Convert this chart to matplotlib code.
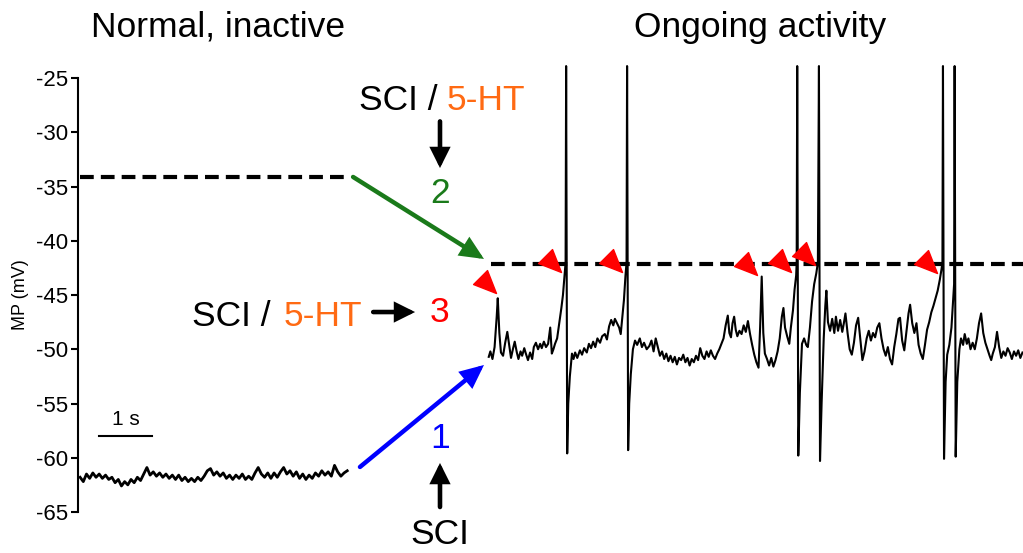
import matplotlib
matplotlib.use("Agg")
import matplotlib.pyplot as plt
import numpy as np
from matplotlib.path import Path

plt.rcParams['font.family'] = ['Liberation Sans', 'DejaVu Sans']
plt.rcParams['axes.unicode_minus'] = False

# membrane potential, normal / inactive cell (sampled every 0.06 s from 0.04 s)
rest_dt = 0.06
rest_start = 0.04
rest_mv = [-61.8, -62.2, -61.5, -61.9, -61.4, -61.8, -61.5, -61.9, -61.6, -62.0,
           -61.8, -62.3, -62.0, -62.6, -62.2, -62.5, -62.0, -62.3, -61.8, -62.1,
           -61.5, -60.9, -61.6, -61.3, -61.7, -61.4, -61.8, -61.5, -61.9, -61.6,
           -62.0, -61.6, -62.1, -61.8, -62.2, -61.9, -62.2, -61.8, -62.1, -61.7,
           -61.2, -61.0, -61.6, -61.3, -61.7, -61.4, -61.9, -61.6, -62.0, -61.6,
           -61.9, -61.5, -62.0, -61.7, -62.0, -61.4, -60.9, -61.5, -61.8, -61.4,
           -61.9, -61.4, -61.8, -61.3, -60.9, -61.5, -61.2, -61.7, -61.3, -61.9,
           -61.5, -62.0, -61.6, -61.9, -61.4, -61.7, -61.2, -61.6, -61.3, -61.7,
           -60.7, -61.3, -61.7, -61.4, -61.2]

# ongoing activity trace (time s, potential mV)
active_t = [7.75, 7.78, 7.82, 7.86, 7.90, 7.92, 7.95, 7.98, 8.02, 8.06, 8.10, 8.14, 8.17, 8.21, 8.24,
            8.28, 8.31, 8.35, 8.38, 8.42, 8.45, 8.49, 8.53, 8.57, 8.60, 8.64, 8.68, 8.72, 8.75, 8.79,
            8.83, 8.87, 8.91, 8.94, 8.97, 9.00, 9.04, 9.08, 9.12, 9.15, 9.18, 9.20,
            9.21, 9.23, 9.25, 9.28, 9.32, 9.35, 9.38, 9.42, 9.47, 9.51, 9.55, 9.60, 9.64, 9.68, 9.72,
            9.76, 9.80, 9.85, 9.89, 9.94, 9.98, 10.02, 10.06, 10.10, 10.13, 10.17, 10.21, 10.24, 10.27,
            10.30, 10.33, 10.35,
            10.36, 10.38, 10.40, 10.43, 10.47, 10.51, 10.55, 10.60, 10.64, 10.68, 10.73, 10.78, 10.82,
            10.86, 10.90, 10.94, 10.98, 11.02, 11.06, 11.10, 11.14, 11.18, 11.22, 11.26, 11.30, 11.34,
            11.38, 11.42, 11.46, 11.50, 11.54, 11.58, 11.62, 11.66, 11.70, 11.74, 11.78, 11.82, 11.86,
            11.90, 11.94, 11.98, 12.02, 12.06, 12.10, 12.14, 12.18, 12.22, 12.26, 12.29, 12.32, 12.35,
            12.38, 12.41, 12.44, 12.48, 12.52, 12.56, 12.60, 12.64, 12.68, 12.72, 12.76, 12.80, 12.84,
            12.87, 12.90, 12.93, 12.96, 13.00, 13.04, 13.08, 13.12, 13.16, 13.20, 13.24, 13.28, 13.31,
            13.34, 13.38, 13.42, 13.45, 13.49, 13.52, 13.55, 13.56,
            13.57, 13.59, 13.62, 13.66, 13.70, 13.74, 13.77, 13.81, 13.85, 13.89, 13.93, 13.96,
            13.98, 14.00, 14.03, 14.07, 14.10, 14.12, 14.15, 14.19, 14.23, 14.27, 14.30, 14.34, 14.38,
            14.42, 14.45, 14.48, 14.52, 14.56, 14.60, 14.64, 14.68, 14.72, 14.76, 14.80, 14.84, 14.88,
            14.92, 14.96, 15.00, 15.04, 15.08, 15.12, 15.16, 15.20, 15.24, 15.28, 15.32, 15.36, 15.40,
            15.44, 15.48, 15.51, 15.55, 15.59, 15.63, 15.67, 15.70, 15.74, 15.78, 15.82, 15.86, 15.90,
            15.94, 15.98, 16.02, 16.06, 16.10, 16.14, 16.18, 16.22, 16.26, 16.29, 16.31,
            16.32, 16.34, 16.37, 16.40, 16.44, 16.48, 16.51, 16.53,
            16.54, 16.56, 16.59, 16.63, 16.66, 16.70, 16.73, 16.77, 16.80, 16.84, 16.88, 16.92, 16.96,
            17.00, 17.04, 17.08, 17.12, 17.16, 17.20, 17.23, 17.26, 17.30, 17.34, 17.38, 17.42, 17.46,
            17.50, 17.54, 17.58, 17.62, 17.66, 17.70, 17.74, 17.78, 17.82]
active_mv = [-50.7, -50.2, -50.9, -49.8, -47.0, -45.3, -48.5, -50.3, -50.6, -49.4, -48.4, -49.8, -50.8, -49.9, -49.3,
             -50.3, -50.9, -50.2, -50.6, -49.9, -50.4, -51.0, -50.3, -50.9, -49.8, -49.4, -50.0, -49.5, -49.9, -49.3,
             -49.8, -49.5, -48.0, -50.4, -50.0, -49.5, -49.0, -47.6, -46.2, -45.0, -43.2, -42.0,
             -23.9, -59.6, -55.0, -52.5, -50.4, -50.9, -50.3, -50.8, -50.1, -50.5, -49.9, -50.3, -49.5, -49.9, -49.3,
             -49.8, -49.0, -49.4, -48.8, -48.6, -49.1, -47.9, -47.3, -47.8, -47.2, -47.6, -48.0, -48.6, -47.0,
             -45.5, -43.2, -42.0,
             -23.9, -59.3, -55.0, -52.3, -50.0, -49.2, -49.6, -49.0, -49.8, -49.4, -50.0, -49.7, -49.2,
             -50.2, -49.0, -49.8, -50.6, -50.2, -50.9, -50.4, -51.1, -50.6, -51.2, -50.7, -51.4, -50.8,
             -51.0, -50.5, -51.2, -50.8, -51.5, -50.9, -51.2, -50.6, -51.0, -49.9, -50.6, -50.9, -50.2,
             -50.7, -50.1, -50.6, -50.9, -50.4, -50.0, -49.5, -49.0, -47.8, -46.9, -48.5, -48.9, -47.6,
             -47.0, -48.2, -48.8, -48.3, -48.6, -47.8, -48.4, -47.4, -48.6, -49.6, -50.5, -51.2, -51.7,
             -48.0, -43.3, -48.5, -50.4, -50.9, -51.5, -50.8, -51.6, -51.0, -50.2, -49.0, -47.0, -46.2,
             -48.0, -48.8, -49.5, -48.0, -46.4, -44.5, -43.2, -42.0,
             -23.9, -59.8, -54.0, -49.5, -49.0, -49.6, -49.8, -48.0, -45.6, -44.0, -43.0, -42.0,
             -23.9, -60.3, -55.0, -49.0, -46.0, -44.6, -47.5, -48.3, -47.2, -48.5, -47.0, -48.3, -47.3,
             -48.4, -47.6, -46.7, -48.5, -50.0, -50.5, -49.4, -47.8, -47.1, -49.0, -51.0, -50.2, -49.0,
             -48.3, -49.2, -48.5, -48.9, -48.0, -47.6, -49.0, -50.0, -50.6, -49.8, -50.9, -51.4, -49.8,
             -48.6, -47.2, -47.1, -49.2, -50.1, -48.4, -46.7, -45.9, -47.6, -48.5, -47.6, -49.6, -50.4,
             -50.9, -49.6, -48.2, -47.5, -46.6, -46.0, -45.3, -44.6, -43.6, -42.7, -42.0,
             -23.9, -60.1, -53.0, -50.5, -49.6, -48.0, -45.5, -44.0,
             -23.9, -59.9, -53.0, -50.0, -49.0, -49.6, -48.6, -49.5, -49.0, -50.0, -49.4, -50.0, -49.0,
             -47.6, -46.7, -48.5, -49.4, -50.0, -50.6, -51.0, -50.4, -49.8, -48.4, -49.8, -50.8, -50.2,
             -50.6, -49.9, -50.3, -50.9, -50.2, -50.6, -50.1, -50.8, -50.3]

# firing thresholds (dashed lines)
rest_threshold = -34.1
active_threshold = -42.1
rest_span = (0.04, 5.1)
active_span = (7.8, 17.83)

# red markers at spike onsets (time s, mV)
onset_t = [7.89, 9.11, 10.26, 12.81, 13.45, 13.91, 16.21]
onset_mv = [-44.8, -42.9, -42.9, -43.2, -42.9, -42.2, -43.0]

yticks = [-65, -60, -55, -50, -45, -40, -35, -30, -25]

W, H = 1023, 553
fig = plt.figure(figsize=(W / 100, H / 100), dpi=100)
ax = fig.add_axes([78 / W, 1 - 512 / H, 945 / W, 434 / H])
ax.set_xlim(0, 17.83)
ax.set_ylim(-65, -25)

rest_t = rest_start + rest_dt * np.arange(len(rest_mv))
ax.plot(rest_t, rest_mv, color='black', lw=2.0, clip_on=False)
ax.plot(active_t, active_mv, color='black', lw=1.5, clip_on=False)

dash = dict(color='black', lw=3, dashes=(3.3, 1.7))
ax.plot(rest_span, [rest_threshold] * 2, **dash)
ax.plot(active_span, [active_threshold] * 2, **dash)

# triangle marker with its tip at the anchor point, pointing down-right
tri = Path([(0, 0), (-23, 9), (-9, 23), (0, 0)], [Path.MOVETO, Path.LINETO, Path.LINETO, Path.CLOSEPOLY])
ax.plot(onset_t, onset_mv, ls='none', marker=tri, markersize=33, color='red', clip_on=False)

ax.set_yticks(yticks)
ax.set_yticklabels([str(v) for v in yticks])
ax.set_xticks([])
ax.tick_params(axis='y', labelsize=16, length=5, width=1.5, pad=2, direction='out')
for s in ['top', 'right', 'bottom']:
    ax.spines[s].set_visible(False)
ax.spines['left'].set_linewidth(1.5)
ax.set_ylabel('MP (mV)', fontsize=13, labelpad=5)
ax.patch.set_alpha(0)

fig.text(218 / W, 1 - 27 / H, 'Normal, inactive', fontsize=25.5, ha='center', va='center')
fig.text(760 / W, 1 - 27 / H, 'Ongoing activity', fontsize=25.5, ha='center', va='center')

orange = '#ff6a13'
green = '#1a7a1a'
lbl = 25.5


def arrow(x0, y0, x1, y1, color, lw, hl, hw):
    ax.annotate('', xy=(x1, y1), xytext=(x0, y0),
                arrowprops=dict(arrowstyle='-|>,head_length=%g,head_width=%g' % (hl, hw),
                                color=color, lw=lw, shrinkA=0, shrinkB=0,
                                mutation_scale=10, joinstyle='miter'),
                annotation_clip=False)


# top: SCI / 5-HT -> 2
ax.text(6.79, -27.95, 'SCI /', fontsize=lbl, ha='right', va='baseline')
ax.text(6.96, -27.95, '5-HT', fontsize=lbl, ha='left', va='baseline', color=orange)
arrow(6.83, -29.0, 6.83, -33.3, 'black', 3.3, 1.0, 0.5)
ax.text(6.83, -35.6, '2', fontsize=lbl, ha='center', va='center', color=green)
arrow(5.19, -34.12, 7.66, -41.68, green, 3.2, 1.2, 0.55)

# middle: SCI / 5-HT -> 3
ax.text(3.64, -47.86, 'SCI /', fontsize=lbl, ha='right', va='baseline')
ax.text(3.87, -47.86, '5-HT', fontsize=lbl, ha='left', va='baseline', color=orange)
arrow(5.57, -46.57, 6.36, -46.57, 'black', 3.3, 1.0, 0.5)
ax.text(6.83, -46.6, '3', fontsize=lbl, ha='center', va='center', color='red')

# bottom: SCI -> 1
ax.text(6.83, -58.2, '1', fontsize=lbl, ha='center', va='center', color='blue')
arrow(5.32, -60.85, 7.66, -51.45, 'blue', 3.2, 1.2, 0.55)
arrow(6.83, -64.54, 6.83, -60.48, 'black', 3.3, 1.0, 0.5)
ax.text(6.83, -67.1, 'SCI', fontsize=lbl, ha='center', va='center', clip_on=False)

# 1 s scale bar
ax.plot([0.40, 1.40], [-58.0, -58.0], color='black', lw=1.5)
ax.text(0.90, -56.5, '1 s', fontsize=15, ha='center', va='center')

fig.savefig('out.png', dpi=100)
